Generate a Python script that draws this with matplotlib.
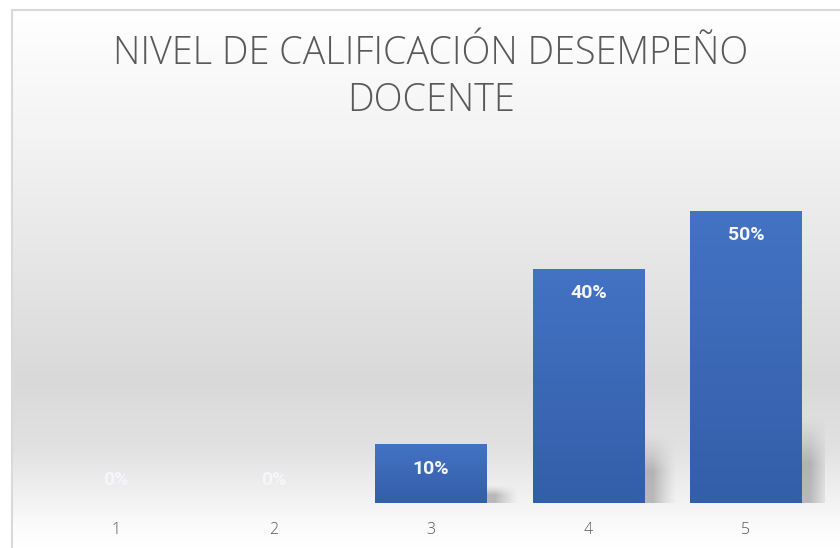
import matplotlib.pyplot as plt
import numpy as np
from matplotlib.patches import Rectangle
from matplotlib.colors import LinearSegmentedColormap

niveles = ['1', '2', '3', '4', '5']
porcentajes = [0, 0, 10, 40, 50]
titulo = 'NIVEL DE CALIFICACIÓN DESEMPEÑO\nDOCENTE'

W, H = 840, 548
fig = plt.figure(figsize=(W / 100, H / 100), dpi=100)
fig.patch.set_facecolor('white')

# fondo del area del grafico con degradado vertical
bg = fig.add_axes([12 / W, 0, 1 - 12 / W, 1 - 10 / H])
bg.set_axis_off()
stops = [(0.0, '#ffffff'), (0.26, '#f2f2f2'), (0.54, '#e2e2e2'), (0.69, '#d9d9d9'),
         (0.82, '#e2e2e2'), (0.96, '#fbfbfb'), (1.0, '#ffffff')]
bg_cmap = LinearSegmentedColormap.from_list('fondo', stops)
bg.imshow(np.linspace(0, 1, 256).reshape(-1, 1), cmap=bg_cmap, aspect='auto',
          extent=[0, 1, 0, 1], origin='upper')
bg.set_xlim(0, 1)
bg.set_ylim(0, 1)
fig.add_artist(Rectangle((12 / W, -0.05), 1, 1 - 10 / H + 0.05, transform=fig.transFigure,
                         fill=False, edgecolor='#d9d9d9', lw=1.5))

ax = fig.add_axes([37.25 / W, 45 / H, 787.5 / W, 350.4 / H])
ax.patch.set_alpha(0)

x = np.arange(1, len(niveles) + 1)
vals = np.array(porcentajes) / 100
ancho = 0.71
bar_cmap = LinearSegmentedColormap.from_list('barra', ['#335ea8', '#4472c4'])

# mascara suave para la sombra
u = np.linspace(0, 1, 80)
fx = np.clip((1 - u) / 0.6, 0, 1) ** 1.3
fy = np.clip((1 - u) / 0.55, 0, 1) ** 1.3
shadow = np.zeros((80, 80, 4))
shadow[..., :3] = 0.45
shadow[..., 3] = 0.45 * fy[:, None] * fx[None, :]

bars = ax.bar(x, vals, width=ancho, color='none', zorder=3)
for xi, v, b in zip(x, vals, bars):
    if v > 0:
        x0 = b.get_x()
        x1 = x0 + b.get_width()
        ax.imshow(np.linspace(0, 1, 100).reshape(-1, 1), cmap=bar_cmap, aspect='auto',
                  extent=[x0, x1, 0, v], origin='lower', zorder=3)
        ax.imshow(shadow, aspect='auto', extent=[x1 - 0.05, x1 + 0.2, 0, 0.3 * v],
                  origin='lower', zorder=2, interpolation='bilinear')
    if v > 0:
        ty = v - 24 / 584
    else:
        ty = 23 / 584
    ax.text(xi, ty, f'{int(v * 100)}%', ha='center', va='center', color='#f4f6fb',
            fontsize=14, fontweight='bold',
            family=['Roboto', 'DejaVu Sans'], zorder=4)

ax.set_xlim(0.5, 5.5)
ax.set_ylim(0, 0.6)
ax.set_xticks(x, niveles)
ax.set_yticks([])
ax.tick_params(axis='x', length=0, pad=14, labelsize=11.5, labelcolor='#595959')
for lab in ax.get_xticklabels():
    lab.set_family(['Open Sans', 'DejaVu Sans'])
    lab.set_fontweight('light')
for s in ax.spines.values():
    s.set_visible(False)

fig.text(431 / W, 1 - 77.5 / H, titulo, ha='center', va='center', fontsize=27.2,
         color='#595959', family=['Open Sans', 'DejaVu Sans'], fontweight='light',
         linespacing=1.3)

fig.savefig('out.png', dpi=100)
